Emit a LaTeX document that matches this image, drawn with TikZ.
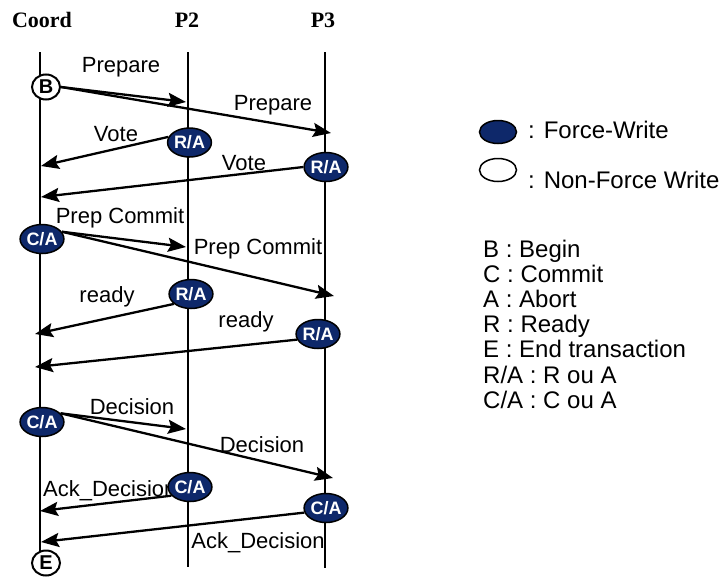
\documentclass[tikz,border=0pt]{standalone}
\usepackage{fontspec}
\setmainfont{Liberation Sans}
\newfontfamily\hdrfont{Liberation Serif}
\usetikzlibrary{shapes.geometric,arrows.meta}
\definecolor{fwnavy}{RGB}{14,40,106}
\begin{document}
\begin{tikzpicture}[x=1pt,y=-1pt,
  lifeline/.style={line width=2.3pt},
  msg/.style={line width=2.3pt,-{Stealth[length=18pt,width=14pt,inset=3pt]}},
  fw/.style={ellipse,draw=black,line width=1.5pt,fill=fwnavy,text=white,
    minimum width=37pt,minimum height=29pt,inner sep=0pt,
    font=\fontsize{18}{18}\selectfont\bfseries},
  nfw/.style={ellipse,draw=black,line width=2pt,fill=white,
    minimum width=28pt,minimum height=25pt,inner sep=0pt,
    font=\fontsize{20}{20}\selectfont\bfseries},
  lbl/.style={anchor=base,inner sep=0pt,font=\fontsize{22}{24}\selectfont},
  hdr/.style={anchor=base,inner sep=0pt,font=\fontsize{22}{24}\selectfont\hdrfont\bfseries},
  leg/.style={anchor=base west,inner sep=0pt,font=\fontsize{24}{25}\selectfont},
  legell/.style={ellipse,draw=black,line width=1.5pt,minimum width=37pt,minimum height=23pt,inner sep=0pt}
]
\useasboundingbox (0,0) rectangle (725,576);

% headers
\node[hdr] (hc) at (42,27) {Coord};
\node[hdr] (h2) at (187,27) {P2};
\node[hdr] (h3) at (323,27) {P3};

% lifelines
\coordinate (c0) at (40,52);  \coordinate (c1) at (40,552);
\coordinate (p20) at (188,52); \coordinate (p21) at (188,567);
\coordinate (p30) at (325,52); \coordinate (p31) at (325,568);
\draw[lifeline] (c0) -- (c1);
\draw[lifeline] (p20) -- (p21);
\draw[lifeline] (p30) -- (p31);

% arrow targets
\coordinate (t1) at (186,102);
\coordinate (t2) at (331,133);
\coordinate (t3) at (41,166);
\coordinate (t4) at (41,197);
\coordinate (t5) at (186,247);
\coordinate (t6) at (334,296);
\coordinate (t7) at (35,334);
\coordinate (t8) at (35,367);
\coordinate (t9) at (186,429);
\coordinate (t10) at (333,478);
\coordinate (t11) at (40,511);
\coordinate (t12) at (41,542);

% labels (behind nodes)
\node[lbl] (l1) at (121,72) {Prepare};
\node[lbl] (l2) at (273,110) {Prepare};
\node[lbl] (l3) at (116,141) {Vote};
\node[lbl] (l4) at (244,170) {Vote};
\node[lbl] (l5) at (120,223) {Prep Commit};
\node[lbl] (l6) at (258,254) {Prep Commit};
\node[lbl] (l7) at (107,302) {ready};
\node[lbl] (l8) at (246,327) {ready};
\node[lbl] (l9) at (132,414) {Decision};
\node[lbl] (l10) at (262,452) {Decision};
\node[lbl,anchor=base west] (l11) at (43,496) {Ack\_Decision};
\node[lbl] (l12) at (258,548) {Ack\_Decision};

% nodes
\node[nfw] (b) at (46,87) {B};
\node[fw] (ra1) at (189.5,142.5) {R/A};
\node[fw] (ra2) at (326,167) {R/A};
\node[fw] (ca1) at (42,239) {C/A};
\node[fw] (ra3) at (191,294) {R/A};
\node[fw] (ra4) at (318,334) {R/A};
\node[fw] (ca2) at (42,422) {C/A};
\node[fw] (ca3) at (190,487) {C/A};
\node[fw] (ca4) at (326,508) {C/A};
\node[nfw] (e) at (46,563) {E};

% messages
\draw[msg] (b.east) -- (t1);
\draw[msg] (b.east) -- (t2);
\draw[msg] (ra1.165) -- (t3);
\draw[msg] (ra2.west) -- (t4);
\draw[msg] (ca1.20) -- (t5);
\draw[msg] (ca1.20) -- (t6);
\draw[msg] (ra3.210) -- (t7);
\draw[msg] (ra4.195) -- (t8);
\draw[msg] (ca2.25) -- (t9);
\draw[msg] (ca2.25) -- (t10);
\draw[msg] (ca3.205) -- (t11);
\draw[msg] (ca4.192) -- (t12);

% legend
\node[legell,fill=fwnavy] (lg1) at (498,132) {};
\node[legell,fill=white] (lg2) at (498,170) {};
\node[leg] (lt1) at (528,138) {: Force-Write};
\node[leg] (lt2) at (528,188) {: Non-Force Write};
\node[leg] (k1) at (483,257) {B : Begin};
\node[leg] (k2) at (483,282) {C : Commit};
\node[leg] (k3) at (483,307) {A : Abort};
\node[leg] (k4) at (483,332) {R : Ready};
\node[leg] (k5) at (483,357) {E : End transaction};
\node[leg] (k6) at (483,383) {R/A : R ou A};
\node[leg] (k7) at (483,408) {C/A : C ou A};
\end{tikzpicture}
\end{document}
